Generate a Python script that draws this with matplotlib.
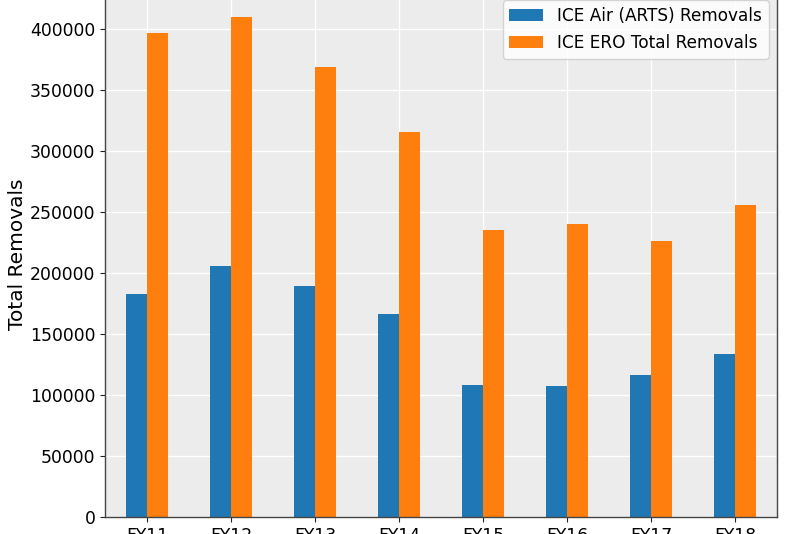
import pandas as pd
import matplotlib
matplotlib.use("Agg")
import matplotlib.pyplot as plt

years = ["FY11", "FY12", "FY13", "FY14", "FY15", "FY16", "FY17", "FY18"]
air_removals = [182800, 205700, 189300, 166100, 108400, 107100, 116100, 133600]
ero_removals = [396906, 409849, 368644, 315943, 235413, 240255, 226119, 256085]

df = pd.DataFrame({
    "ICE Air (ARTS) Removals": air_removals,
    "ICE ERO Total Removals": ero_removals,
}, index=years)

fig = plt.figure(figsize=(8, 5.34), dpi=100)
# axes run past the top edge of the figure, as in the reference crop
ax = fig.add_axes([105 / 800, 17 / 534, 672 / 800, 525 / 534])
ax.set_facecolor("#ececec")

df.plot.bar(ax=ax, rot=0, color=["#1f77b4", "#ff7f0e"], width=0.5)

ax.set_axisbelow(True)
ax.grid(True, color="white", linewidth=1)

ax.set_ylabel("Total Removals", fontsize=14.5, labelpad=2)
ax.tick_params(labelsize=12.4, colors="#222222", labelcolor="black")
for side in ["left", "bottom", "right", "top"]:
    ax.spines[side].set_color("#444444")
    ax.spines[side].set_linewidth(1)

ax.legend(loc="upper right", fontsize=12.2)

fig.savefig("out.png", dpi=100)
